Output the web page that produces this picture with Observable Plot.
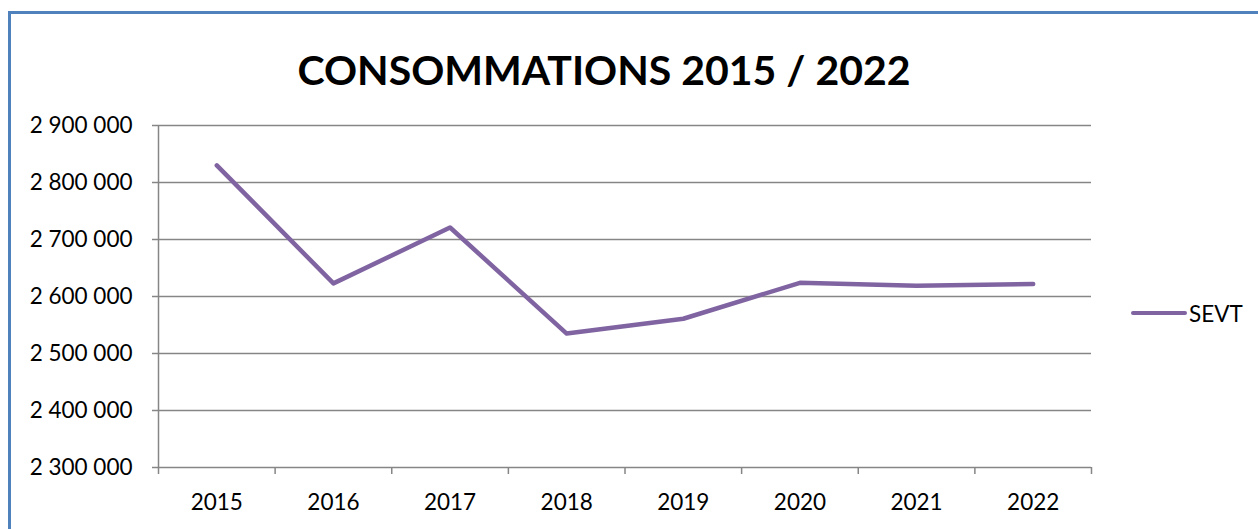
<!DOCTYPE html>
<html><head><meta charset="utf-8">
<script src="https://cdn.jsdelivr.net/npm/d3@7"></script>
<script src="https://cdn.jsdelivr.net/npm/@observablehq/plot@0.6"></script>
<style>
html,body{margin:0;padding:0;background:#fff;}
#wrap{position:relative;width:1258px;height:529px;overflow:hidden;font-family:Lato,"Open Sans",sans-serif;}
#border{position:absolute;left:8px;top:11px;width:1400px;height:600px;border-left:3px solid #4F81BD;border-top:3px solid #4F81BD;}
#title{position:absolute;left:0;width:1208px;top:45px;text-align:center;font-weight:bold;font-size:41px;line-height:50px;color:#000;}
#legend{position:absolute;left:1131px;top:300px;height:26px;display:flex;align-items:center;font-size:22.5px;color:#000;}
#legend .sw{width:56px;height:4.5px;background:#8064A2;border-radius:2px;margin-right:2px;}
#chart{position:absolute;left:0;top:0;}
</style></head>
<body><div id="wrap"><div id="border"></div><div id="chart"></div>
<div id="title">CONSOMMATIONS 2015 / 2022</div>
<div id="legend"><div class="sw"></div><span id="sname"></span></div></div>
<script>
const years = [2015, 2016, 2017, 2018, 2019, 2020, 2021, 2022];
const sevt = [2830000, 2623000, 2721000, 2535000, 2561000, 2624000, 2619000, 2622000];
const yTicks = [2300000, 2400000, 2500000, 2600000, 2700000, 2800000, 2900000];
const seriesName = "SEVT";

const data = years.map((y, i) => ({year: y, value: sevt[i]}));
const bounds = years.map(y => y - 0.5).concat([years[years.length - 1] + 0.5]);
const fmt = d => d3.format(",")(d).replace(/,/g, " ");
document.getElementById("sname").textContent = seriesName;

const chart = Plot.plot({
  width: 1258, height: 529,
  marginLeft: 158, marginRight: 167, marginTop: 125, marginBottom: 62,
  style: {fontFamily: "Lato, 'Open Sans', sans-serif", fontSize: "22.5px", color: "#000", background: "transparent"},
  x: {domain: [bounds[0], bounds[bounds.length - 1]], label: null},
  y: {domain: [yTicks[0], yTicks[yTicks.length - 1]], label: null},
  marks: [
    Plot.gridY(yTicks, {stroke: "#868686", strokeOpacity: 1, strokeWidth: 1.5}),
    Plot.axisY({ticks: yTicks, tickSize: 6, tickPadding: 20, tickFormat: fmt, stroke: "#868686", strokeWidth: 1.5, fill: "#000", label: null}),
    Plot.ruleX([bounds[0]], {stroke: "#868686", strokeWidth: 1.5}),
    Plot.axisX({ticks: bounds, tickSize: 7, tickFormat: () => "", stroke: "#868686", strokeWidth: 1.5, label: null}),
    Plot.axisX({ticks: years, tickSize: 0, tickPadding: 27, tickFormat: d => String(d), fill: "#000", label: null}),
    Plot.line(data, {x: "year", y: "value", stroke: "#8064A2", strokeWidth: 4.5, strokeLinecap: "round", strokeLinejoin: "round"})
  ]
});
document.getElementById("chart").appendChild(chart);
</script></body></html>
